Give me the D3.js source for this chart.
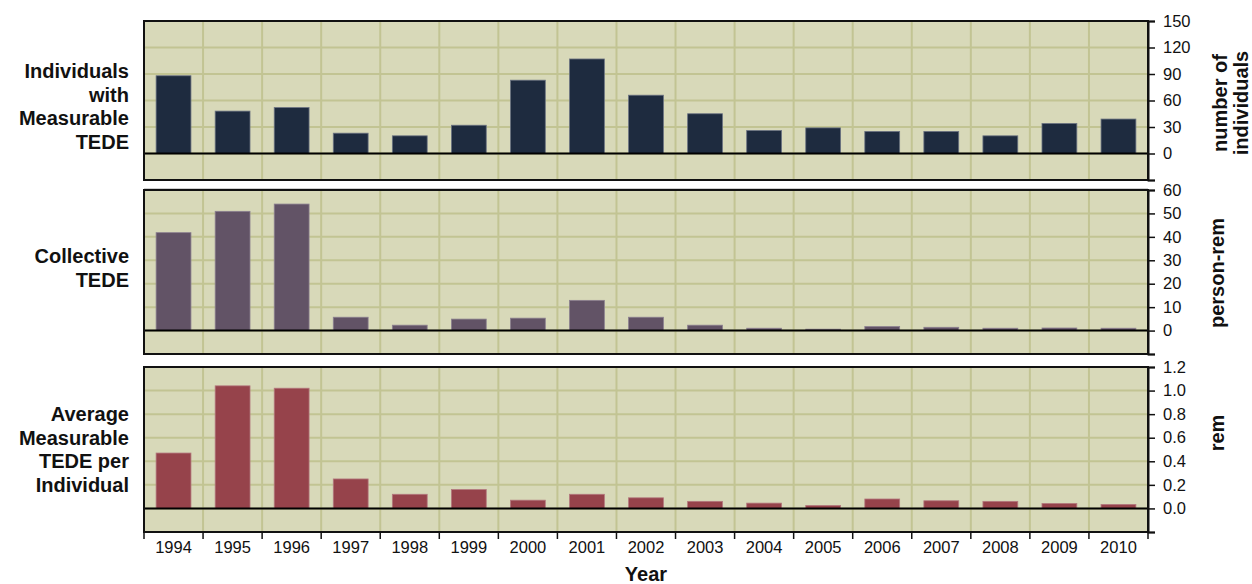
<!DOCTYPE html>
<html><head><meta charset="utf-8">
<script src="https://cdn.jsdelivr.net/npm/d3@7"></script>
<style>
html,body{margin:0;padding:0;background:#fff;}
svg text{font-family:"Liberation Sans",Arial,sans-serif;}
</style></head>
<body>
<svg id="chart" width="1252" height="584"></svg>
<script>
const years = ["1994","1995","1996","1997","1998","1999","2000","2001","2002","2003","2004","2005","2006","2007","2008","2009","2010"];
const individuals = [88, 48, 52, 23, 20, 32, 83, 107, 66, 45, 26, 29, 25, 25, 20, 34, 39];
const collective = [41.8, 50.9, 54.0, 5.7, 2.3, 4.9, 5.3, 12.9, 5.7, 2.3, 1.0, 0.6, 1.7, 1.4, 1.0, 1.1, 1.0];
const average = [0.47, 1.04, 1.02, 0.25, 0.12, 0.16, 0.07, 0.12, 0.09, 0.06, 0.045, 0.025, 0.08, 0.065, 0.06, 0.042, 0.034];
const ticks1 = [-30, 0, 30, 60, 90, 120, 150];
const ticks2 = [-10, 0, 10, 20, 30, 40, 50, 60];
const ticks3 = [-0.2, 0, 0.2, 0.4, 0.6, 0.8, 1.0, 1.2];
const leftLabels1 = ["Individuals", "with", "Measurable", "TEDE"];
const leftLabels2 = ["Collective", "TEDE"];
const leftLabels3 = ["Average", "Measurable", "TEDE per", "Individual"];
const rightLabels1 = ["number of", "individuals"];
const rightLabels2 = ["person-rem"];
const rightLabels3 = ["rem"];

const svg = d3.select("#chart");
const L = 144, R = 1148;
const x = d3.scaleBand().domain(years).range([L, R]).paddingInner(0).paddingOuter(0);
const barW = x.bandwidth() * 0.59;

const panels = [
  {top: 21, bottom: 180, dom: [-30, 150], ticks: ticks1, data: individuals, color: "#1e2b3f", stroke: "#6b7382", fmt: d => d3.format("d")(d), left: leftLabels1, leftY: 72, right: rightLabels1, rx: 1227, ry: 103},
  {top: 190, bottom: 354, dom: [-10, 60], ticks: ticks2, data: collective, color: "#625366", stroke: "#8c8090", fmt: d => d3.format("d")(d), left: leftLabels2, leftY: 257, right: rightLabels2, rx: 1224, ry: 273},
  {top: 367, bottom: 532, dom: [-0.2, 1.2], ticks: ticks3, data: average, color: "#96434b", stroke: "#b3787e", fmt: d => d3.format(".1f")(d), left: leftLabels3, leftY: 415, right: rightLabels3, rx: 1224, ry: 433}
];

// faint separator line
svg.append("line").attr("x1", L).attr("x2", R).attr("y1", 188.5).attr("y2", 188.5)
  .attr("stroke", "#cfcfcf").attr("stroke-width", 1);

panels.forEach((p, pi) => {
  const y = d3.scaleLinear().domain(p.dom).range([p.bottom, p.top]);
  const g = svg.append("g");
  g.append("rect").attr("x", L).attr("y", p.top).attr("width", R - L).attr("height", p.bottom - p.top)
    .attr("fill", "#d8d9b9");
  // horizontal grid
  g.selectAll(".hg").data(p.ticks.slice(1, -1)).join("line")
    .attr("x1", L).attr("x2", R).attr("y1", d => y(d)).attr("y2", d => y(d))
    .attr("stroke", "#c2c493").attr("stroke-width", 2);
  // vertical grid at category boundaries
  g.selectAll(".vg").data(years.slice(1)).join("line")
    .attr("x1", d => x(d)).attr("x2", d => x(d)).attr("y1", p.top).attr("y2", p.bottom)
    .attr("stroke", "#c2c493").attr("stroke-width", 2);
  // bars
  g.selectAll(".bar").data(p.data).join("rect")
    .attr("x", (d, i) => x(years[i]) + (x.bandwidth() - barW) / 2)
    .attr("width", barW)
    .attr("y", d => y(d))
    .attr("height", d => y(0) - y(d))
    .attr("fill", p.color).attr("stroke", p.stroke).attr("stroke-width", 0.8);
  // zero line
  g.append("line").attr("x1", L).attr("x2", R).attr("y1", y(0)).attr("y2", y(0))
    .attr("stroke", "#000").attr("stroke-width", 2);
  // border
  g.append("rect").attr("x", L).attr("y", p.top).attr("width", R - L).attr("height", p.bottom - p.top)
    .attr("fill", "none").attr("stroke", "#111").attr("stroke-width", 2);
  // right axis
  const ax = d3.axisRight(y).tickValues(p.ticks).tickSize(7).tickPadding(8)
    .tickFormat(d => (d < 0 ? "" : p.fmt(d)));
  const ag = g.append("g").attr("transform", `translate(${R},0)`).call(ax);
  ag.select(".domain").attr("stroke", "#111").attr("stroke-width", 2);
  ag.selectAll(".tick line").attr("stroke", "#111").attr("stroke-width", 1.5);
  ag.selectAll(".tick text").attr("font-size", "16.5px").attr("fill", "#111")
    .attr("font-family", "Liberation Sans, Arial, sans-serif");
  // left label
  const lt = g.append("text").attr("text-anchor", "end").attr("font-weight", "bold")
    .attr("font-size", "20px").attr("fill", "#111");
  p.left.forEach((s, i) => {
    lt.append("tspan").attr("x", 129).attr("y", p.leftY + 6 + i * 23.5).text(s);
  });
  // right rotated label
  const rt = g.append("text").attr("text-anchor", "middle").attr("font-weight", "bold")
    .attr("font-size", "20px").attr("fill", "#111")
    .attr("transform", `translate(${p.rx},${p.ry}) rotate(-90)`);
  p.right.forEach((s, i) => {
    rt.append("tspan").attr("x", 0).attr("y", i * 20.5).text(s);
  });
  if (pi === 2) {
    // bottom category axis
    const bx = d3.axisBottom(x).tickSize(0).tickPadding(9);
    const bg = g.append("g").attr("transform", `translate(0,${p.bottom})`).call(bx);
    bg.select(".domain").remove();
    bg.selectAll(".tick text").attr("font-size", "16.5px").attr("fill", "#111")
      .attr("font-family", "Liberation Sans, Arial, sans-serif");
    const bounds = years.map(d => x(d)).concat([R]);
    g.selectAll(".bt").data(bounds).join("line")
      .attr("x1", d => d).attr("x2", d => d).attr("y1", p.bottom).attr("y2", p.bottom + 7)
      .attr("stroke", "#111").attr("stroke-width", 1.5);
  }
});

svg.append("text").attr("x", (L + R) / 2).attr("y", 581).attr("text-anchor", "middle")
  .attr("font-weight", "bold").attr("font-size", "20px").attr("fill", "#111").text("Year");
</script>
</body></html>
